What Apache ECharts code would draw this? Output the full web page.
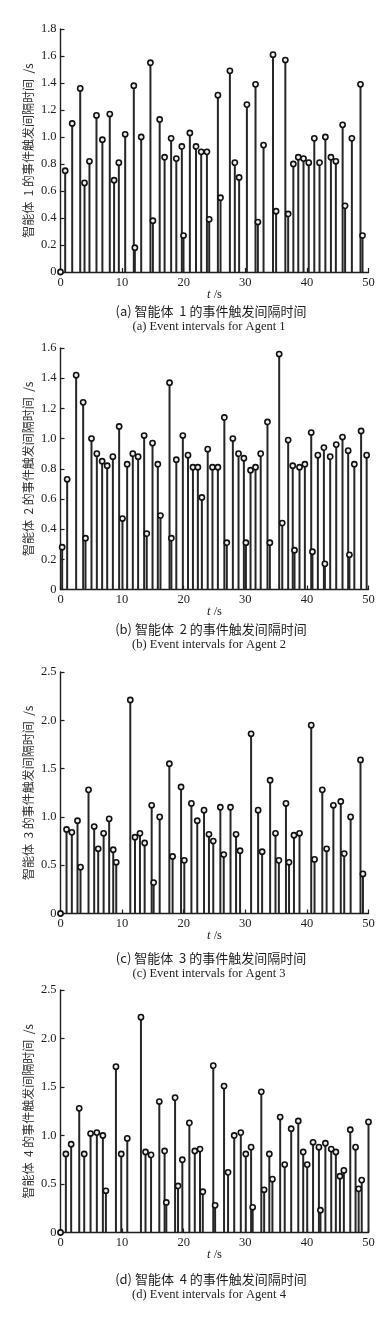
<!DOCTYPE html>
<html><head><meta charset="utf-8">
<script src="https://cdn.jsdelivr.net/npm/echarts@6/dist/echarts.min.js"></script>
<style>html,body{margin:0;padding:0;background:#fff}#c{width:392px;height:1322px}</style>
</head><body><div id="c"></div>
<script>
// Agent 1
const t1 = [0, 0.76, 1.9, 3.2, 3.9, 4.7, 5.84, 6.8, 8.0, 8.7, 9.47, 10.5, 11.9, 12.07, 13.1, 14.6, 15.0, 16.1, 16.9, 17.96, 18.8, 19.7, 19.97, 21.0, 22.0, 22.84, 23.77, 24.14, 25.55, 25.98, 27.5, 28.3, 29.0, 30.26, 31.66, 32.04, 32.96, 34.5, 35.0, 36.5, 36.96, 37.8, 38.6, 39.45, 40.3, 41.2, 42.05, 43.0, 43.9, 44.7, 45.8, 46.2, 47.3, 48.7, 49.03];
const v1 = [0, 0.75, 1.10, 1.36, 0.66, 0.82, 1.16, 0.98, 1.17, 0.68, 0.81, 1.02, 1.38, 0.18, 1.00, 1.55, 0.38, 1.13, 0.85, 0.99, 0.84, 0.93, 0.27, 1.03, 0.93, 0.89, 0.89, 0.39, 1.31, 0.55, 1.49, 0.81, 0.70, 1.24, 1.39, 0.37, 0.94, 1.61, 0.45, 1.57, 0.43, 0.80, 0.85, 0.84, 0.81, 0.99, 0.81, 1.00, 0.85, 0.82, 1.09, 0.49, 0.99, 1.39, 0.27];
// Agent 2
const t2 = [0.27, 1.08, 2.54, 3.68, 4.06, 5.03, 5.9, 6.76, 7.58, 8.5, 9.52, 10.06, 10.82, 11.74, 12.6, 13.58, 14.0, 14.94, 15.8, 16.23, 17.7, 18.0, 18.8, 19.86, 20.7, 21.5, 22.3, 22.95, 23.9, 24.67, 25.55, 26.6, 27.0, 27.98, 28.9, 29.77, 30.1, 30.85, 31.66, 32.5, 33.6, 33.99, 35.5, 36.0, 36.96, 37.7, 37.99, 38.8, 39.67, 40.7, 40.9, 41.78, 42.76, 42.92, 43.78, 44.76, 45.78, 46.7, 46.9, 47.7, 48.8, 49.7];
const v2 = [0.28, 0.73, 1.42, 1.24, 0.34, 1.00, 0.90, 0.85, 0.82, 0.88, 1.08, 0.47, 0.83, 0.90, 0.88, 1.02, 0.37, 0.97, 0.83, 0.49, 1.37, 0.34, 0.86, 1.02, 0.89, 0.81, 0.81, 0.61, 0.93, 0.81, 0.81, 1.14, 0.31, 1.00, 0.90, 0.87, 0.31, 0.79, 0.81, 0.90, 1.11, 0.31, 1.56, 0.44, 0.99, 0.82, 0.26, 0.81, 0.83, 1.04, 0.25, 0.89, 0.94, 0.17, 0.88, 0.96, 1.01, 0.92, 0.23, 0.83, 1.05, 0.89];
// Agent 3
const t3 = [0, 0.98, 1.84, 2.76, 3.25, 4.55, 5.47, 6.12, 7.0, 7.9, 8.56, 9.05, 11.33, 12.09, 12.9, 13.66, 14.8, 15.12, 16.1, 17.67, 18.2, 19.57, 20.1, 21.25, 22.2, 23.3, 24.1, 24.8, 25.95, 26.5, 27.6, 28.5, 29.15, 30.94, 32.08, 32.73, 34.03, 34.9, 35.45, 36.6, 37.1, 37.9, 38.8, 40.7, 41.24, 42.5, 43.2, 44.3, 45.5, 46.06, 47.1, 48.7, 49.1];
const v3 = [0, 0.87, 0.84, 0.96, 0.48, 1.28, 0.90, 0.67, 0.83, 0.98, 0.66, 0.53, 2.21, 0.79, 0.83, 0.73, 1.12, 0.32, 1.00, 1.55, 0.59, 1.31, 0.55, 1.14, 0.96, 1.07, 0.82, 0.75, 1.10, 0.61, 1.10, 0.82, 0.65, 1.86, 1.07, 0.64, 1.38, 0.83, 0.55, 1.14, 0.53, 0.81, 0.83, 1.95, 0.56, 1.28, 0.67, 1.12, 1.16, 0.62, 1.00, 1.59, 0.41];
// Agent 4
const t4 = [0, 0.87, 1.73, 3.04, 3.85, 4.88, 5.9, 6.88, 7.37, 9.0, 9.86, 10.84, 13.06, 13.8, 14.7, 16.04, 16.9, 17.18, 18.6, 19.08, 19.78, 20.92, 21.8, 22.65, 23.1, 24.8, 25.1, 26.55, 27.2, 28.2, 29.27, 30.08, 30.94, 31.2, 32.6, 33.06, 33.9, 34.4, 35.66, 36.4, 37.45, 38.6, 39.4, 40.05, 41.0, 41.95, 42.2, 43.0, 43.95, 44.7, 45.36, 46.0, 47.04, 47.9, 48.4, 48.9, 50.0];
const v4 = [0, 0.81, 0.91, 1.28, 0.81, 1.02, 1.03, 1.00, 0.43, 1.71, 0.81, 0.97, 2.22, 0.83, 0.80, 1.35, 0.84, 0.31, 1.39, 0.48, 0.75, 1.13, 0.84, 0.86, 0.42, 1.72, 0.28, 1.51, 0.62, 1.00, 1.03, 0.81, 0.88, 0.26, 1.45, 0.44, 0.81, 0.55, 1.19, 0.70, 1.07, 1.15, 0.83, 0.70, 0.93, 0.88, 0.23, 0.92, 0.86, 0.83, 0.58, 0.64, 1.06, 0.88, 0.45, 0.54, 1.14];

const yMax = [1.8, 1.6, 2.5, 2.5];
const yStep = [0.2, 0.2, 0.5, 0.5];
const yNames = ['智能体  1 的事件触发间隔时间  /s', '智能体  2 的事件触发间隔时间  /s', '智能体  3 的事件触发间隔时间  /s', '智能体  4 的事件触发间隔时间  /s'];
const capCN = ['(a) 智能体  1 的事件触发间隔时间', '(b) 智能体  2 的事件触发间隔时间', '(c) 智能体  3 的事件触发间隔时间', '(d) 智能体  4 的事件触发间隔时间'];
const capEN = ['(a) Event intervals for Agent 1', '(b) Event intervals for Agent 2', '(c) Event intervals for Agent 3', '(d) Event intervals for Agent 4'];
const xMax = 50, xStep = 10;

const T = [t1, t2, t3, t4], V = [v1, v2, v3, v4];
const tops = [29, 348, 672, 990];
const heights = [243, 241.5, 241.5, 242.5];
const capY = [311, 629, 958, 1279];

const serif = '"Liberation Serif","DejaVu Serif",serif';
const cjk = '"Noto Sans CJK SC","Noto Sans",sans-serif';
const ink = '#1e1e1e';

const grids = [], xAxes = [], yAxes = [], series = [], graphics = [];
for (let i = 0; i < 4; i++) {
  grids.push({left: 60.5, width: 308, top: tops[i], height: heights[i], containLabel: false});
  xAxes.push({
    type: 'value', gridIndex: i, min: 0, max: xMax, interval: xStep,
    name: '{i|t} /s', nameLocation: 'middle', nameGap: 16, nameMoveOverlap: false,
    nameTextStyle: {fontFamily: serif, fontSize: 12.5, color: ink, rich: {i: {fontFamily: serif, fontStyle: 'italic', fontSize: 12.5, color: ink}}},
    axisLine: {show: true, onZero: false, lineStyle: {color: ink, width: 1.4}},
    axisTick: {show: true, inside: true, length: 4, lineStyle: {color: ink, width: 1.2}},
    axisLabel: {margin: 4, fontFamily: serif, fontSize: 12.5, color: ink},
    splitLine: {show: false}
  });
  yAxes.push({
    type: 'value', gridIndex: i, min: 0, max: yMax[i], interval: yStep[i],
    name: yNames[i], nameLocation: 'middle', nameRotate: 90, nameGap: 26, nameMoveOverlap: false,
    nameTextStyle: {fontFamily: cjk, fontSize: 12, color: '#333'},
    axisLine: {show: true, lineStyle: {color: ink, width: 1.4}},
    axisTick: {show: true, inside: true, length: 4, lineStyle: {color: ink, width: 1.2}},
    axisLabel: {margin: 4, fontFamily: serif, fontSize: 12.5, color: ink,
      formatter: v => v === 0 ? '0' : v.toFixed(1)},
    splitLine: {show: false}
  });
  series.push({
    type: 'custom', xAxisIndex: i, yAxisIndex: i, clip: false,
    data: T[i].map((t, k) => [t, V[i][k]]),
    renderItem: (params, api) => {
      const x = api.value(0), y = api.value(1);
      const p0 = api.coord([x, 0]), p1 = api.coord([x, y]);
      return {type: 'group', children: [
        {type: 'line', shape: {x1: p0[0], y1: p0[1], x2: p1[0], y2: p1[1]}, style: {stroke: '#262626', lineWidth: 2}},
        {type: 'circle', shape: {cx: p1[0], cy: p1[1], r: 2.6}, style: {fill: '#eeeeee', stroke: '#111', lineWidth: 1.6}, z2: 10}
      ]};
    }
  });
  graphics.push({type: 'text', x: 211, y: capY[i], style: {text: capCN[i], font: '13px ' + cjk, fill: ink, textAlign: 'center', textVerticalAlign: 'middle'}});
  graphics.push({type: 'text', x: 209, y: capY[i] + 15.5, style: {text: capEN[i], font: '12.5px ' + serif, fill: ink, textAlign: 'center', textVerticalAlign: 'middle'}});
}

const chart = echarts.init(document.getElementById('c'), null, {renderer: 'canvas'});
chart.setOption({
  backgroundColor: '#fff',
  animation: false,
  grid: grids, xAxis: xAxes, yAxis: yAxes, series: series,
  graphic: graphics
});
</script></body></html>
